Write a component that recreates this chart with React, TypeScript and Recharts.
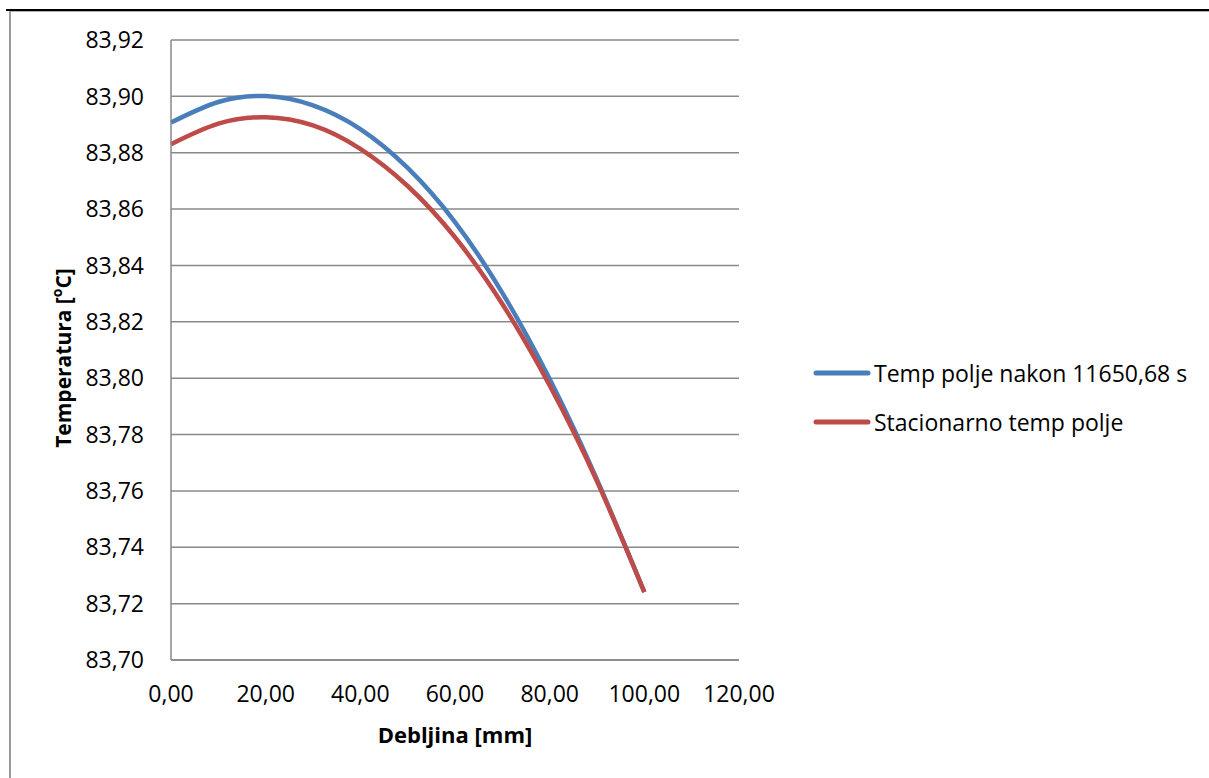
import React from 'react';
import {
    LineChart,
    Line,
    XAxis,
    YAxis,
    CartesianGrid,
    Legend
} from 'recharts';

// debljina stijenke [mm]
const thickness = [0, 10, 20, 30, 40, 50, 60, 70, 80, 90, 100];

// temperatura nakon 11650,68 s [°C]
const tempTransient = [83.8907, 83.8980, 83.9001, 83.8968, 83.8884, 83.8746, 83.8554, 83.8303, 83.7997, 83.7640, 83.7241];

// stacionarno temperaturno polje [°C]
const tempSteady = [83.8830, 83.8903, 83.8926, 83.8897, 83.8814, 83.8682, 83.8500, 83.8263, 83.7974, 83.7634, 83.7241];

const seriesNames = ['Temp polje nakon 11650,68 s', 'Stacionarno temp polje'];
const seriesColors = ['#4a7ebb', '#be4b48'];

const xTicks = [0, 20, 40, 60, 80, 100, 120];
const yTicks = [83.70, 83.72, 83.74, 83.76, 83.78, 83.80, 83.82, 83.84, 83.86, 83.88, 83.90, 83.92];

const data = thickness.map((x, i) => ({
    x,
    transient: tempTransient[i],
    steady: tempSteady[i]
}));

const FONT = '"Open Sans", "DejaVu Sans", sans-serif';
const GRID = '#898989';

const comma = (v: number) => v.toFixed(2).replace('.', ',');

const renderLegend = () => (
    <div style={{ fontFamily: FONT, fontSize: 23, color: '#000' }}>
        {seriesNames.map((name, i) => (
            <div key={name} style={{ display: 'flex', alignItems: 'center', height: 49 }}>
                <svg width={60} height={10} style={{ marginRight: 2 }}>
                    <line x1={4} y1={5} x2={56} y2={5} stroke={seriesColors[i]} strokeWidth={5} strokeLinecap="round" />
                </svg>
                <span style={{ whiteSpace: 'nowrap' }}>{name}</span>
            </div>
        ))}
    </div>
);

const YTitle = () => (
    <text
        x={63}
        y={358}
        transform="rotate(-90 63 358)"
        textAnchor="middle"
        dominantBaseline="central"
        fontFamily={FONT}
        fontSize={21}
        fontWeight="bold"
        fill="#000"
    >
        Temperatura [<tspan fontSize={14} dy={-7}>o</tspan><tspan dy={7}>C]</tspan>
    </text>
);

export default function App() {
    return (
        <div style={{ position: 'absolute', left: 0, top: 0, width: 1209, height: 778, overflow: 'hidden', background: '#fff' }}>
            <div style={{ position: 'absolute', left: 6, top: 9, width: 1203, height: 2, background: '#000' }} />
            <div
                style={{
                    position: 'absolute',
                    left: 9,
                    top: 11,
                    width: 1200,
                    height: 767,
                    borderLeft: '2px solid #9a9a9a',
                    borderTop: '1px solid #b0b0b0',
                    boxSizing: 'border-box'
                }}
            />
            <div style={{ position: 'absolute', left: 0, top: 0 }}>
                <LineChart
                    width={1209}
                    height={778}
                    data={data}
                    margin={{ top: 40, right: 470, bottom: 58, left: 91 }}
                >
                    <CartesianGrid vertical={false} stroke={GRID} strokeWidth={1.5} />
                    <XAxis
                        dataKey="x"
                        type="number"
                        domain={[0, 120]}
                        ticks={xTicks}
                        tickFormatter={comma}
                        height={60}
                        tickLine={false}
                        tickSize={0}
                        tickMargin={26}
                        axisLine={{ stroke: GRID, strokeWidth: 1.5 }}
                        tick={{ fill: '#000', fontSize: 23, fontFamily: FONT }}
                        label={{
                            value: 'Debljina [mm]',
                            position: 'bottom',
                            offset: 7,
                            fill: '#000',
                            fontSize: 22,
                            fontWeight: 'bold',
                            fontFamily: FONT
                        }}
                    />
                    <YAxis
                        type="number"
                        domain={[83.70, 83.92]}
                        ticks={yTicks}
                        tickFormatter={comma}
                        width={80}
                        tickLine={false}
                        tickSize={0}
                        tickMargin={27}
                        axisLine={{ stroke: GRID, strokeWidth: 1.5 }}
                        tick={{ fill: '#000', fontSize: 23, fontFamily: FONT }}
                        label={{ content: () => <YTitle /> }}
                    />
                    <Legend
                        layout="vertical"
                        verticalAlign="middle"
                        align="center"
                        content={renderLegend}
                        wrapperStyle={{ position: 'absolute', left: 812, top: 348, width: 397 }}
                    />
                    <Line
                        type="natural"
                        dataKey="transient"
                        name={seriesNames[0]}
                        stroke={seriesColors[0]}
                        strokeWidth={4.5}
                        dot={false}
                        isAnimationActive={false}
                    />
                    <Line
                        type="natural"
                        dataKey="steady"
                        name={seriesNames[1]}
                        stroke={seriesColors[1]}
                        strokeWidth={4.5}
                        dot={false}
                        isAnimationActive={false}
                    />
                </LineChart>
            </div>
        </div>
    );
}
